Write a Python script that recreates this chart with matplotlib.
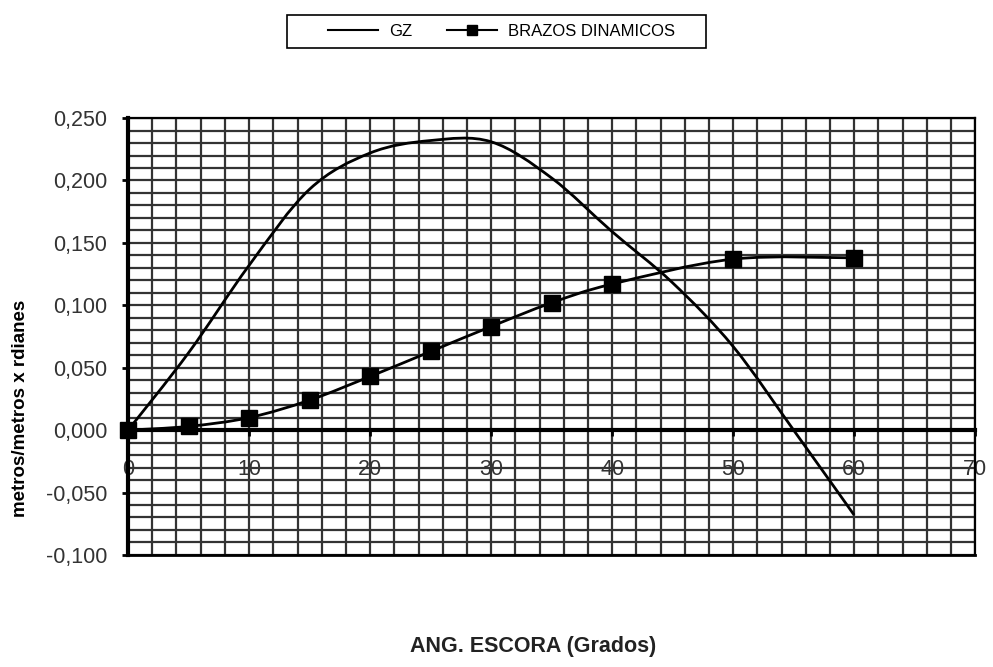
import numpy as np
import matplotlib.pyplot as plt
from matplotlib.lines import Line2D
from matplotlib.patches import PathPatch, Rectangle
from matplotlib.path import Path
from matplotlib.ticker import MultipleLocator, FuncFormatter

plt.rcParams['font.family'] = ['Liberation Sans', 'DejaVu Sans']

# GZ curve (m) and dynamic stability arms (m x rad) vs heel angle
gz_ang = [0, 5, 10, 15, 20, 25, 30, 35, 40, 45, 50, 55, 60]
gz = [0.000, 0.062, 0.132, 0.193, 0.222, 0.232, 0.231, 0.202, 0.159, 0.118, 0.067, 0.000, -0.068]

din_ang = [0, 5, 10, 15, 20, 25, 30, 35, 40, 50, 60]
brazos_din = [0.000, 0.003, 0.010, 0.024, 0.043, 0.063, 0.083, 0.102, 0.117, 0.137, 0.138]


def smooth_path(xs, ys):
    # spreadsheet-style smoothed line: cubic bezier with catmull-rom tangents
    p = np.column_stack([xs, ys]).astype(float)
    verts = [p[0]]
    codes = [Path.MOVETO]
    n = len(p)
    for i in range(n - 1):
        p0 = p[max(i - 1, 0)]
        p1, p2 = p[i], p[i + 1]
        p3 = p[min(i + 2, n - 1)]
        verts += [p1 + (p2 - p0) / 6, p2 - (p3 - p1) / 6, p2]
        codes += [Path.CURVE4] * 3
    return Path(verts, codes)


fig = plt.figure(figsize=(9.93, 6.67), dpi=100)
ax = fig.add_axes([0.129, 0.168, 0.853, 0.655])

ax.add_patch(PathPatch(smooth_path(gz_ang, gz), fill=False, color='black',
                       lw=2, zorder=4))
ax.add_patch(PathPatch(smooth_path(din_ang, brazos_din), fill=False,
                       color='black', lw=2, zorder=5))
ax.plot(din_ang, brazos_din, ls='none', color='black', marker='s', ms=11,
        zorder=6, clip_on=False)

ax.set_xlim(0, 70)
ax.set_ylim(-0.1, 0.25)
ax.xaxis.set_major_locator(MultipleLocator(10))
ax.xaxis.set_minor_locator(MultipleLocator(2))
ax.yaxis.set_major_locator(MultipleLocator(0.05))
ax.yaxis.set_minor_locator(MultipleLocator(0.01))
ax.yaxis.set_major_formatter(FuncFormatter(lambda v, p: f'{v:.3f}'.replace('.', ',')))

ax.grid(which='both', color='#333333', lw=1.6)
ax.set_axisbelow(True)

# x axis drawn through zero
ax.spines['bottom'].set_position(('data', 0))
ax.spines['bottom'].set_linewidth(3)
ax.spines['left'].set_linewidth(3)
for s in ('top', 'right'):
    ax.spines[s].set_linewidth(1.6)
ax.plot([0, 70], [-0.1, -0.1], color='black', lw=2, clip_on=False, zorder=3)

ax.tick_params(which='major', direction='out', length=4, width=2, labelsize=15.5,
               labelcolor='#333333')
ax.tick_params(which='minor', length=0)
ax.tick_params(axis='x', pad=17)
ax.tick_params(axis='y', pad=11)

ax.set_ylabel('metros/metros x rdianes', fontsize=13.5, fontweight='bold')
ax.yaxis.set_label_coords(-0.117, 0.336)
fig.text(0.537, 0.022, 'ANG. ESCORA (Grados)', ha='center', fontsize=15.5,
         fontweight='bold', color='#222222')

# legend box
fig.patches.append(Rectangle((287 / 993, 1 - 48 / 667), 419 / 993, 33 / 667,
                             transform=fig.transFigure, fill=False,
                             edgecolor='black', lw=1.2))
handles = [Line2D([], [], color='black', lw=1.5),
           Line2D([], [], color='black', lw=1.5, marker='s', ms=7)]
fig.legend(handles, ['GZ', 'BRAZOS DINAMICOS'], loc='center',
           bbox_to_anchor=(0.505, 0.953), ncol=2, frameon=False, fontsize=12,
           handlelength=3.0, handletextpad=0.65, columnspacing=2.1)

fig.savefig('out.png', dpi=100)
